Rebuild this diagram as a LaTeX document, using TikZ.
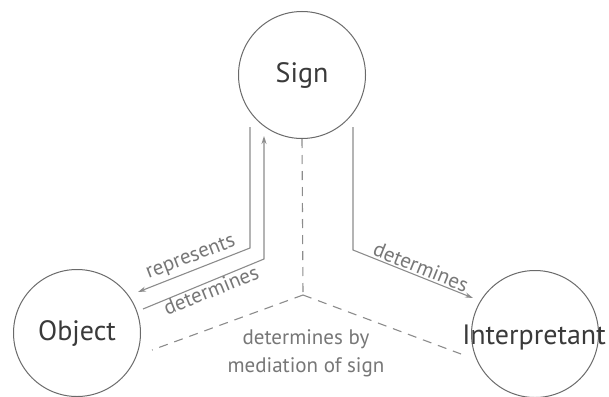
\documentclass[tikz,border=0pt]{standalone}
\usepackage{fontspec}
\setmainfont{PT Sans}
\usetikzlibrary{arrows.meta}
\definecolor{circgray}{HTML}{6A6A6A}
\definecolor{textdark}{HTML}{3A3A3A}
\definecolor{linegray}{HTML}{8C8C8C}
\definecolor{lblgray}{HTML}{777777}
\begin{document}
\begin{tikzpicture}[x=1pt,y=-1pt,
  circ/.style={circle, draw=circgray, line width=1pt, minimum size=127pt, inner sep=0pt,
    font=\fontsize{28}{30}\selectfont, text=textdark},
  conn/.style={draw=linegray, line width=1.1pt},
  arr/.style={conn, -{Stealth[length=8pt,width=5pt]}},
  dashln/.style={draw=linegray, line width=1.1pt, dash pattern=on 9pt off 7pt},
  lbl/.style={text=lblgray, font=\fontsize{21}{28}\selectfont, inner sep=0pt}
]
\useasboundingbox[fill=white] (0,0) rectangle (609,396);

\node[circ] (Sign) at (302,75) {Sign};
\node[circ] (Object) at (77,333) {Object};
\node[circ] (Interp) at (535,334) {};
\node[font=\fontsize{28}{30}\selectfont, text=textdark, inner sep=0pt] (InterpT) at (534,337) {Interpretant};

% connectors
\coordinate (r1) at (250,127);
\coordinate (r2) at (250,248);
\coordinate (r3) at (138,292);
\draw[arr] (r1) -- (r2) -- (r3);

\coordinate (d1) at (143,309);
\coordinate (d2) at (264,259);
\coordinate (d3) at (264,136);
\draw[arr] (d1) -- (d2) -- (d3);

\coordinate (i1) at (353,127);
\coordinate (i2) at (353,250);
\coordinate (i3) at (473,298);
\draw[arr] (i1) -- (i2) -- (i3);

% dashed mediation lines
\coordinate (mid) at (303,295);
\coordinate (oend) at (152,350);
\coordinate (iend) at (461,354);
\draw[dashln] (Sign.south) -- (mid);
\draw[dashln] (mid) -- (oend);
\draw[dashln] (mid) -- (iend);

% labels
\node[lbl, rotate=21] (lrep) at (191,258) {represents};
\node[lbl, rotate=22] (ldet) at (211,290) {determines};
\node[lbl, rotate=-22] (ldet2) at (421,267) {determines};
\node[lbl, align=center] (lmed) at (306,353) {determines by\\mediation of sign};
\end{tikzpicture}
\end{document}
